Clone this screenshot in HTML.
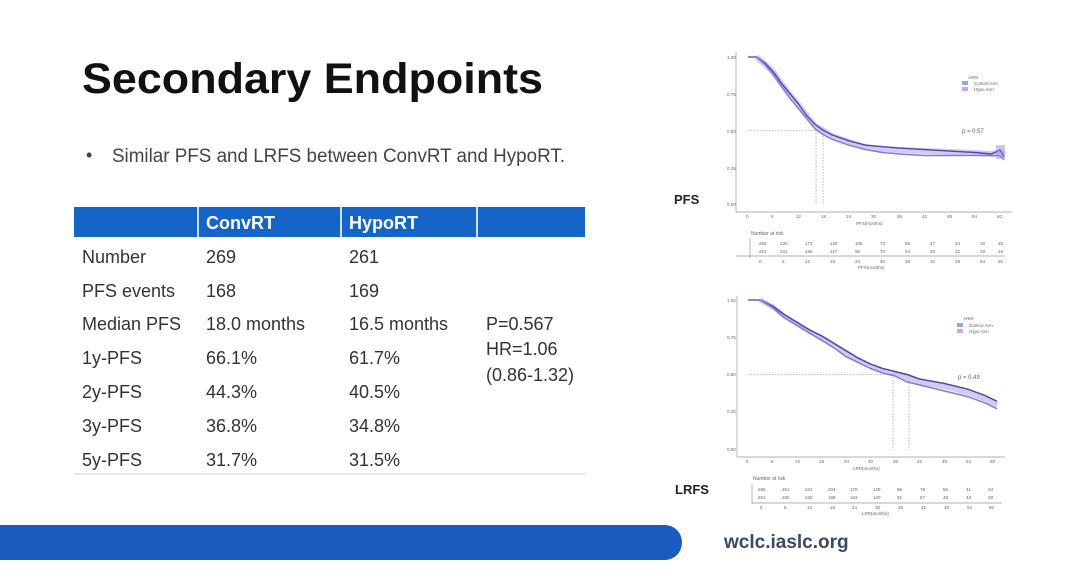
<!DOCTYPE html>
<html><head><meta charset="utf-8"><style>
html,body{margin:0;padding:0;background:#fff;}
svg{display:block;font-family:"Liberation Sans",sans-serif;}
</style></head><body>
<svg width="1080" height="573" viewBox="0 0 1080 573" xmlns="http://www.w3.org/2000/svg">
<rect width="1080" height="573" fill="#fff"/>
<text x="82" y="93" font-size="43" font-weight="bold" fill="#111" textLength="461" lengthAdjust="spacingAndGlyphs">Secondary Endpoints</text>
<text x="86" y="161" font-size="18" fill="#444">•</text>
<text x="112" y="162" font-size="19" fill="#444" textLength="453" lengthAdjust="spacingAndGlyphs">Similar PFS and LRFS between ConvRT and HypoRT.</text>

<!-- table -->
<rect x="74" y="207" width="511" height="30" fill="#1565c8"/>
<rect x="197" y="207" width="2" height="30" fill="#cfe0f5"/>
<rect x="340" y="207" width="2" height="30" fill="#cfe0f5"/>
<rect x="476" y="207" width="2" height="30" fill="#cfe0f5"/>
<line x1="74" y1="474" x2="585" y2="474" stroke="#ddd" stroke-width="1.5"/>
<g font-size="18" fill="#fff" font-weight="bold">
<text x="206" y="229">ConvRT</text><text x="349" y="229">HypoRT</text></g>
<g font-size="18" fill="#333">
<text x="82" y="263">Number</text><text x="206" y="263">269</text><text x="349" y="263">261</text>
<text x="82" y="297">PFS events</text><text x="206" y="297">168</text><text x="349" y="297">169</text>
<text x="82" y="330">Median PFS</text><text x="206" y="330">18.0 months</text><text x="349" y="330">16.5 months</text>
<text x="82" y="364">1y-PFS</text><text x="206" y="364">66.1%</text><text x="349" y="364">61.7%</text>
<text x="82" y="398">2y-PFS</text><text x="206" y="398">44.3%</text><text x="349" y="398">40.5%</text>
<text x="82" y="432">3y-PFS</text><text x="206" y="432">36.8%</text><text x="349" y="432">34.8%</text>
<text x="82" y="466">5y-PFS</text><text x="206" y="466">31.7%</text><text x="349" y="466">31.5%</text>
<text x="486" y="330">P=0.567</text><text x="486" y="355">HR=1.06</text><text x="486" y="381">(0.86-1.32)</text>
</g>

<!-- bottom bar -->
<path d="M0 525 H665 A17 17.5 0 0 1 665 560 H0 Z" fill="#1a5bbf"/>
<text x="724" y="548" font-size="19" fill="#3a4a66" font-weight="bold">wclc.iaslc.org</text>

<text x="674" y="204" font-size="13" font-weight="bold" fill="#222">PFS</text>
<text x="675" y="494" font-size="13" font-weight="bold" fill="#222">LRFS</text>

<!-- PFS chart -->
<g stroke="#999" stroke-width="0.7" fill="none">
<line x1="736" y1="52" x2="736" y2="212"/><line x1="736" y1="212" x2="1012" y2="212"/>
<line x1="736" y1="256" x2="1005" y2="256"/><line x1="750" y1="238" x2="750" y2="258"/>
</g>
<g font-size="4.5" fill="#666">
<text x="727" y="59">1.00</text><text x="727" y="96">0.75</text><text x="727" y="133">0.50</text><text x="727" y="170">0.25</text><text x="727" y="206">0.00</text>
<text x="746" y="218">0</text><text x="771" y="218">6</text><text x="796" y="218">12</text><text x="821" y="218">18</text><text x="846" y="218">24</text><text x="871" y="218">30</text><text x="897" y="218">36</text><text x="922" y="218">42</text><text x="947" y="218">48</text><text x="972" y="218">54</text><text x="997" y="218">60</text>
<text x="856" y="225">PFS(months)</text>
<text x="751" y="235" font-size="5">Number at risk</text>
<text x="968" y="79">ARM</text><text x="974" y="85">Control Arm</text><text x="974" y="91">Hypo Arm</text>
<text x="962" y="133" font-size="6">p = 0.57</text>
<g><text x="759" y="245">269</text><text x="780" y="245">230</text><text x="805" y="245">174</text><text x="830" y="245">129</text><text x="855" y="245">105</text><text x="880" y="245">73</text><text x="905" y="245">58</text><text x="930" y="245">47</text><text x="955" y="245">34</text><text x="980" y="245">28</text><text x="998" y="245">20</text></g>
<g><text x="759" y="253">261</text><text x="780" y="253">231</text><text x="805" y="253">158</text><text x="830" y="253">117</text><text x="855" y="253">95</text><text x="880" y="253">70</text><text x="905" y="253">54</text><text x="930" y="253">40</text><text x="955" y="253">32</text><text x="980" y="253">29</text><text x="998" y="253">19</text></g>
<text x="759" y="263">0</text><text x="782" y="263">6</text><text x="805" y="263">12</text><text x="830" y="263">18</text><text x="855" y="263">24</text><text x="880" y="263">30</text><text x="905" y="263">36</text><text x="930" y="263">42</text><text x="955" y="263">48</text><text x="980" y="263">54</text><text x="998" y="263">60</text>
<text x="858" y="269">PFS(months)</text>
</g>
<rect x="962" y="81" width="6" height="4" fill="#8fa8dd"/><rect x="962" y="87" width="6" height="4" fill="#c9a9e6"/>
<g stroke="#888" stroke-width="0.6" stroke-dasharray="1.5,1.5" fill="none">
<line x1="748" y1="130.5" x2="823" y2="130.5"/><line x1="816" y1="130" x2="816" y2="204"/><line x1="823" y1="130" x2="823" y2="204"/>
</g>
<g fill="none" stroke-linejoin="round">
<polyline stroke="#a9a2e6" stroke-opacity="0.55" stroke-width="6" points="756.4,57 764.8,64 773.2,72 781.6,84 790,95 798.4,105 806.8,116 815.2,126 823.6,131 832,136 848.8,142 865.6,147 882.4,149 899.2,150 924.4,151 949.6,152 974.8,153 991.6,154 1000,152 1004.2,155"/>
<polyline stroke="#5048a6" stroke-width="1.4" points="748,57 756.4,57 764.8,62.9 773.2,71.7 781.6,83.5 790,93.75 798.4,104 806.8,115.8 815.2,124.6 823.6,130.5 832,134.9 848.8,140.8 865.6,145.2 882.4,146.7 899.2,148.1 924.4,149.6 949.6,151.1 974.8,152.5 991.6,154 1000,150 1004.2,157"/>
<polyline stroke="#8a78d0" stroke-width="1.4" points="748,57 756.4,57 764.8,64.35 773.2,74.6 781.6,86.4 790,98.2 798.4,108.5 806.8,118.7 815.2,129 823.6,134.9 832,139.3 848.8,145.2 865.6,149.6 882.4,152.5 899.2,154 924.4,155.5 949.6,155.5 974.8,155.5 991.6,155.5 1000,156 1004.2,160"/>
</g>
<rect x="996" y="145" width="9" height="14" fill="#9a8ce0" opacity="0.5"/>

<!-- LRFS chart -->
<g stroke="#999" stroke-width="0.7" fill="none">
<line x1="737" y1="296" x2="737" y2="457"/><line x1="737" y1="457" x2="1005" y2="457"/>
<line x1="752" y1="503" x2="1002" y2="503"/><line x1="752" y1="484" x2="752" y2="504"/>
</g>
<g font-size="4.5" fill="#666">
<text x="727" y="302">1.00</text><text x="727" y="339">0.75</text><text x="727" y="376">0.50</text><text x="727" y="413">0.25</text><text x="727" y="451">0.00</text>
<text x="746" y="463">0</text><text x="771" y="463">6</text><text x="795" y="463">12</text><text x="819" y="463">18</text><text x="844" y="463">24</text><text x="868" y="463">30</text><text x="893" y="463">36</text><text x="917" y="463">42</text><text x="942" y="463">48</text><text x="966" y="463">54</text><text x="990" y="463">60</text>
<text x="853" y="470">LRR(months)</text>
<text x="753" y="480" font-size="5">Number at risk</text>
<text x="963" y="320">ARM</text><text x="969" y="327">Control Arm</text><text x="969" y="333">Hypo Arm</text>
<text x="958" y="379" font-size="6">p = 0.49</text>
<g><text x="758" y="491">269</text><text x="782" y="491">261</text><text x="805" y="491">231</text><text x="828" y="491">204</text><text x="850" y="491">170</text><text x="873" y="491">129</text><text x="897" y="491">96</text><text x="920" y="491">76</text><text x="943" y="491">56</text><text x="966" y="491">41</text><text x="988" y="491">34</text></g>
<g><text x="758" y="499">261</text><text x="782" y="499">255</text><text x="805" y="499">220</text><text x="828" y="499">198</text><text x="850" y="499">163</text><text x="873" y="499">120</text><text x="897" y="499">91</text><text x="920" y="499">67</text><text x="943" y="499">49</text><text x="966" y="499">43</text><text x="988" y="499">28</text></g>
<text x="760" y="509">0</text><text x="784" y="509">6</text><text x="807" y="509">12</text><text x="830" y="509">18</text><text x="852" y="509">24</text><text x="875" y="509">30</text><text x="898" y="509">36</text><text x="921" y="509">42</text><text x="944" y="509">48</text><text x="967" y="509">54</text><text x="989" y="509">60</text>
<text x="862" y="515">LRR(months)</text>
</g>
<rect x="957" y="323" width="6" height="4" fill="#8fa8dd"/><rect x="957" y="329" width="6" height="4" fill="#c9a9e6"/>
<g stroke="#888" stroke-width="0.6" stroke-dasharray="1.5,1.5" fill="none">
<line x1="748" y1="374.5" x2="909" y2="374.5"/><line x1="893" y1="374" x2="893" y2="450"/><line x1="909" y1="380" x2="909" y2="450"/>
</g>
<g fill="none" stroke-linejoin="round">
<polyline stroke="#a9a2e6" stroke-opacity="0.55" stroke-width="5" points="760.2,300 772.5,306.7 784.7,316.4 797,323.8 809.2,331.3 821.5,338 833.7,345.5 846,352.5 858.2,360 870.5,366 882.7,371 895,374 907.2,378 919.5,382 944,386.5 968.5,393 984.8,399 997.1,405"/>
<polyline stroke="#5048a6" stroke-width="1.5" points="748,300 760.2,300 772.5,306 784.7,314.9 797,322.4 809.2,329.8 821.5,335.8 833.7,343.2 846,350.7 858.2,358.1 870.5,364.1 882.7,368.5 895,371.5 907.2,374.5 919.5,379 944,383.4 968.5,389.4 984.8,395.4 997.1,401.3"/>
<polyline stroke="#8a78d0" stroke-width="1.5" points="748,300 760.2,300 772.5,307.5 784.7,317.9 797,325.3 809.2,332.8 821.5,340.2 833.7,347.7 846,356.6 858.2,362.6 870.5,368.5 882.7,373 895,376 907.2,382 919.5,384.9 944,390.9 968.5,396.9 984.8,402.8 997.1,408.8"/>
</g>
</svg>
</body></html>
